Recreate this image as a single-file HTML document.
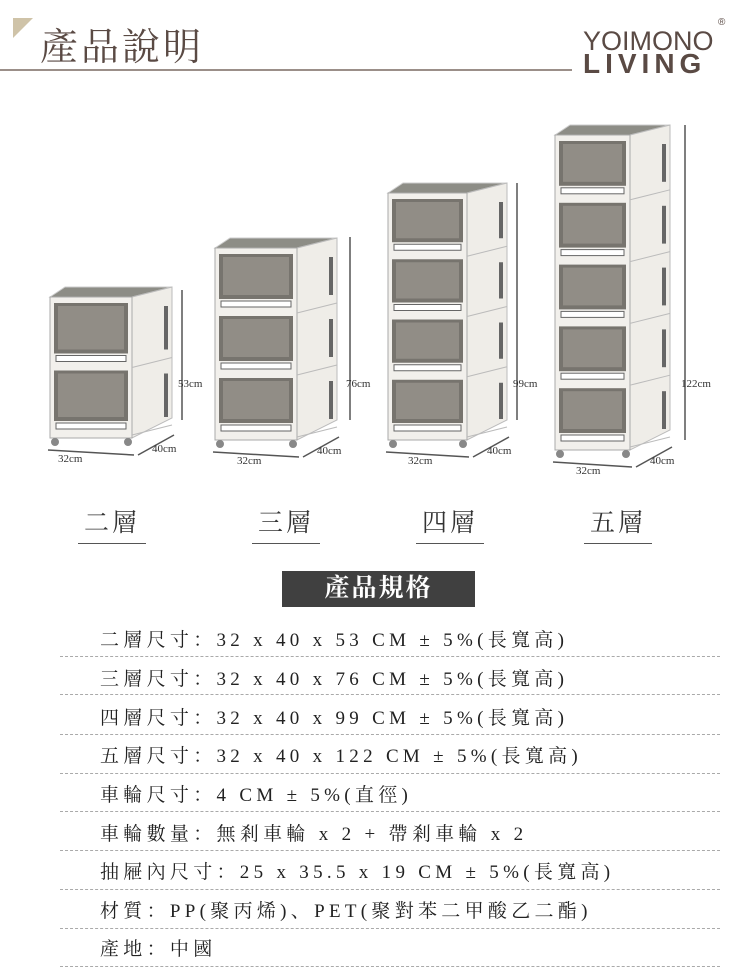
<!DOCTYPE html>
<html><head><meta charset="utf-8"><style>
body{margin:0;width:750px;height:977px;background:#fff;position:relative;overflow:hidden;font-family:"Liberation Serif","Noto Serif CJK SC",serif;}
.abs{position:absolute}
.title{left:40px;top:16px;font-size:38px;color:#5a4a44;letter-spacing:3px;font-family:"Liberation Serif","Noto Serif CJK SC",serif;}
.logo{font-family:"Liberation Sans",sans-serif;color:#5a4a44;line-height:1;white-space:nowrap}
.lay{font-size:25px;color:#333;border-bottom:1.5px solid #555;padding:0 6px 4px;letter-spacing:3px}
.row{left:100px;font-size:19px;color:#222;letter-spacing:4.3px;white-space:nowrap}
.dash{left:60px;width:660px;border-top:1.5px dashed #aaa;height:0}
</style></head><body>
<svg class="abs" style="left:0;top:0" width="750" height="100">
<polygon points="13,18 33,18 13,38" fill="#cfc3a8"/>
<line x1="0" y1="70" x2="572" y2="70" stroke="#7a6a62" stroke-width="1.5"/>
</svg>
<div class="abs title">產品說明</div>
<div class="abs logo" style="top:28px;font-size:27px;left:583px;letter-spacing:0px;transform:scaleX(1.0);transform-origin:left">YOIMONO</div>
<div class="abs logo" style="top:50px;font-size:28px;left:583px;font-weight:bold;letter-spacing:5px">LIVING</div>
<div class="abs logo" style="top:18px;left:718px;font-size:10px">®</div>

<svg id="cab" class="abs" style="left:0;top:0" width="750" height="500"></svg>

<div class="abs lay" style="left:78px;top:503px">二層</div>
<div class="abs lay" style="left:252px;top:503px">三層</div>
<div class="abs lay" style="left:416px;top:503px">四層</div>
<div class="abs lay" style="left:584px;top:503px">五層</div>

<div class="abs" style="left:282px;top:571px;width:193px;height:36px;background:#404040;color:#fff;font-size:25px;font-weight:bold;text-align:center;line-height:36px;letter-spacing:2px">產品規格</div>

<div class="abs row" style="top:625px">二層尺寸：32 x 40 x 53 CM ± 5%(長寬高)</div>
<div class="abs dash" style="top:656px"></div>
<div class="abs row" style="top:664px">三層尺寸：32 x 40 x 76 CM ± 5%(長寬高)</div>
<div class="abs dash" style="top:694px"></div>
<div class="abs row" style="top:703px">四層尺寸：32 x 40 x 99 CM ± 5%(長寬高)</div>
<div class="abs dash" style="top:734px"></div>
<div class="abs row" style="top:741px">五層尺寸：32 x 40 x 122 CM ± 5%(長寬高)</div>
<div class="abs dash" style="top:773px"></div>
<div class="abs row" style="top:780px">車輪尺寸：4 CM ± 5%(直徑)</div>
<div class="abs dash" style="top:811px"></div>
<div class="abs row" style="top:819px">車輪數量：無剎車輪 x 2 + 帶剎車輪 x 2</div>
<div class="abs dash" style="top:850px"></div>
<div class="abs row" style="top:857px">抽屜內尺寸：25 x 35.5 x 19 CM ± 5%(長寬高)</div>
<div class="abs dash" style="top:889px"></div>
<div class="abs row" style="top:896px">材質：PP(聚丙烯)、PET(聚對苯二甲酸乙二酯)</div>
<div class="abs dash" style="top:928px"></div>
<div class="abs row" style="top:934px">產地：中國</div>
<div class="abs dash" style="top:966px"></div>

<script>
var s=document.getElementById('cab'),h='';
function cab(x,t,b,sx,n,hl,lx,lt,lb,w1){
 var fw=sx-x-40;
 var fx2=x+fw;
 h+='<polygon points="'+x+','+t+' '+(x+15)+','+(t-10)+' '+sx+','+(t-10)+' '+fx2+','+t+'" fill="#8d8d86" stroke="#ccc"/>';
 h+='<polygon points="'+fx2+','+t+' '+sx+','+(t-10)+' '+sx+','+(b-20)+' '+fx2+','+b+'" fill="#efede8" stroke="#bbb"/>';
 h+='<rect x="'+x+'" y="'+t+'" width="'+fw+'" height="'+(b-t)+'" fill="#f2f0ec" stroke="#aaa"/>';
 var dh=(b-t-6)/n;
 for(var i=0;i<n;i++){var y=t+3+i*dh;
  h+='<rect x="'+(x+4)+'" y="'+(y+3)+'" width="'+(fw-8)+'" height="'+(dh-17)+'" fill="#77746e"/>';
  h+='<rect x="'+(x+8)+'" y="'+(y+6)+'" width="'+(fw-16)+'" height="'+(dh-24)+'" fill="#918d86"/>';
  h+='<rect x="'+(x+6)+'" y="'+(y+dh-12)+'" width="'+(fw-12)+'" height="6" fill="#fff" stroke="#666"/>';
  h+='<line x1="'+fx2+'" y1="'+(y+dh)+'" x2="'+sx+'" y2="'+(y+dh-10)+'" stroke="#bbb"/>';
  h+='<rect x="'+(sx-8)+'" y="'+(y+6)+'" width="4" height="'+(dh-24)+'" fill="#666"/>';
 }
 h+='<circle cx="'+(x+5)+'" cy="'+(b+4)+'" r="4" fill="#888"/><circle cx="'+(fx2-4)+'" cy="'+(b+4)+'" r="4" fill="#888"/>';
 h+='<line x1="'+lx+'" y1="'+lt+'" x2="'+lx+'" y2="'+lb+'" stroke="#555" stroke-width="1.5"/>';
 h+='<text x="'+(lx-4)+'" y="387" font-size="11" fill="#333" font-family="Liberation Serif,serif">'+hl+'</text>';
 h+='<line x1="'+(x-2)+'" y1="'+(b+12)+'" x2="'+(fx2+2)+'" y2="'+(b+17)+'" stroke="#555" stroke-width="1.5"/>';
 h+='<line x1="'+(fx2+6)+'" y1="'+(b+17)+'" x2="'+(sx+2)+'" y2="'+(b-3)+'" stroke="#555" stroke-width="1.5"/>';
 h+='<text x="'+w1+'" y="'+(b+24)+'" font-size="11" fill="#333" font-family="Liberation Serif,serif">32cm</text>';
 h+='<text x="'+(sx-20)+'" y="'+(b+14)+'" font-size="11" fill="#333" font-family="Liberation Serif,serif">40cm</text>';
}
cab(50,297,438,172,2,'53cm',182,290,420,58);
cab(215,248,440,337,3,'76cm',350,237,420,237);
cab(388,193,440,507,4,'99cm',517,183,420,408);
cab(555,135,450,670,5,'122cm',685,125,440,576);
s.innerHTML=h;
</script>
</body></html>
